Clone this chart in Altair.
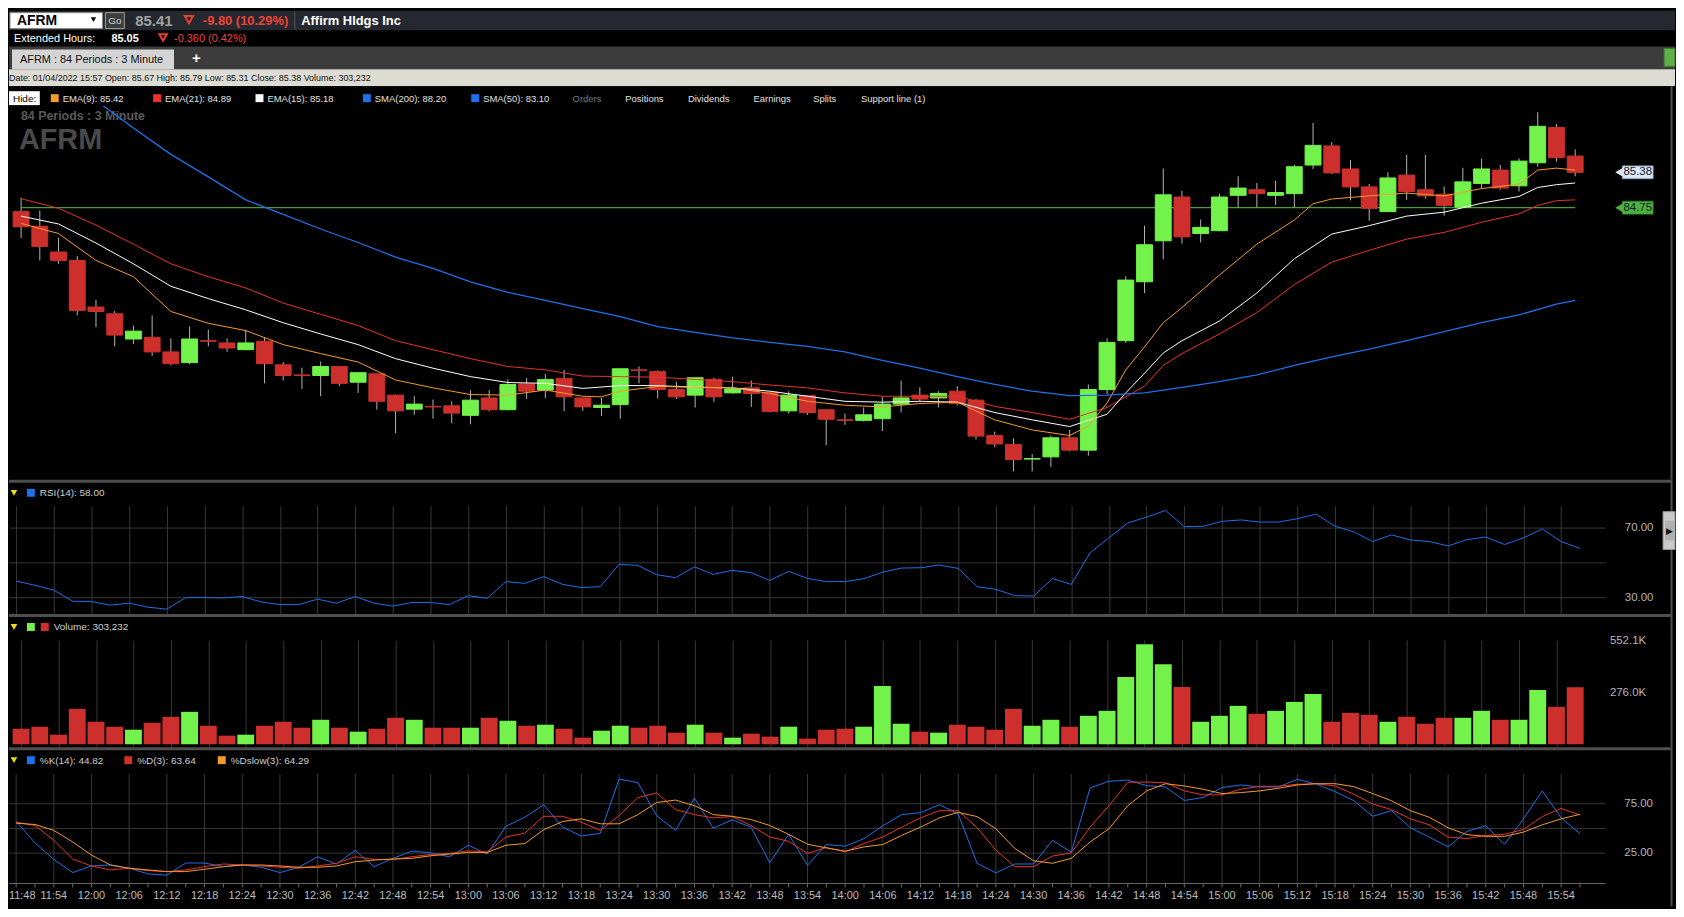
import altair as alt
import pandas as pd

# ---------------- data ----------------
OPEN = [84.68, 84.42, 83.96, 83.81, 82.98, 82.86, 82.41, 82.44, 82.18, 81.99,
        82.38, 82.34, 82.22, 82.37, 81.95, 81.77, 81.76, 81.92, 81.64, 81.79,
        81.41, 81.16, 81.21, 81.22, 81.05, 81.36, 81.15, 81.61, 81.50, 81.71,
        81.36, 81.19, 81.24, 81.86, 81.83, 81.51, 81.41, 81.69, 81.45, 81.54,
        81.46, 81.13, 81.40, 81.15, 80.97, 80.96, 80.99, 81.25, 81.41, 81.36,
        81.48, 81.32, 80.69, 80.53, 80.27, 80.31, 80.65, 80.43, 81.51, 82.38,
        83.43, 84.16, 84.94, 84.29, 84.34, 84.97, 85.07, 84.97, 85.00, 85.51,
        85.85, 85.44, 85.12, 84.68, 85.33, 85.07, 84.99, 84.76, 85.18, 85.42,
        85.14, 85.55, 86.18, 85.67]
HIGH = [84.93, 84.70, 84.21, 83.89, 83.11, 82.91, 82.65, 82.83, 82.42, 82.63,
        82.58, 82.42, 82.57, 82.44, 82.00, 81.90, 82.01, 81.92, 81.81, 81.79,
        81.42, 81.39, 81.33, 81.30, 81.50, 81.50, 81.69, 81.72, 81.79, 81.86,
        81.36, 81.36, 81.88, 81.92, 81.85, 81.65, 81.72, 81.72, 81.74, 81.67,
        81.46, 81.48, 81.40, 81.16, 81.08, 81.19, 81.38, 81.67, 81.55, 81.48,
        81.57, 81.34, 80.76, 80.64, 80.36, 80.69, 80.79, 81.60, 82.42, 83.53,
        84.43, 85.45, 85.05, 84.54, 85.00, 85.31, 85.19, 85.23, 85.51, 86.26,
        85.92, 85.60, 85.17, 85.38, 85.69, 85.69, 85.13, 85.46, 85.62, 85.51,
        85.63, 86.45, 86.24, 85.79]
LOW = [84.21, 83.81, 83.75, 82.83, 82.62, 82.28, 82.32, 82.11, 81.94, 81.96,
       82.28, 82.18, 82.21, 81.62, 81.67, 81.52, 81.39, 81.57, 81.45, 81.15,
       80.73, 81.06, 80.99, 80.91, 80.89, 81.12, 81.14, 81.34, 81.36, 81.12,
       81.13, 81.04, 80.99, 81.62, 81.35, 81.34, 81.19, 81.29, 81.44, 81.20,
       81.10, 81.08, 81.06, 80.52, 80.88, 80.94, 80.77, 81.10, 81.30, 81.19,
       81.23, 80.62, 80.48, 80.05, 80.05, 80.13, 80.41, 80.33, 81.43, 82.34,
       83.23, 83.83, 84.11, 84.13, 84.33, 84.75, 84.75, 84.80, 84.75, 85.44,
       85.35, 84.88, 84.52, 84.68, 84.89, 84.91, 84.61, 84.76, 85.09, 85.07,
       85.04, 85.48, 85.57, 85.31]
CLOSE = [84.41, 84.06, 83.81, 82.92, 82.90, 82.48, 82.55, 82.18, 81.97, 82.41,
         82.37, 82.25, 82.34, 81.97, 81.76, 81.76, 81.92, 81.62, 81.81, 81.30,
         81.13, 81.25, 81.20, 81.09, 81.32, 81.15, 81.60, 81.48, 81.69, 81.38,
         81.20, 81.23, 81.88, 81.85, 81.51, 81.38, 81.72, 81.38, 81.52, 81.44,
         81.12, 81.41, 81.10, 80.98, 80.96, 81.06, 81.25, 81.36, 81.34, 81.44,
         81.26, 80.68, 80.54, 80.26, 80.28, 80.65, 80.43, 81.51, 82.35, 83.46,
         84.09, 84.98, 84.23, 84.40, 84.94, 85.10, 85.00, 85.02, 85.48, 85.86,
         85.37, 85.12, 84.74, 85.28, 85.04, 84.96, 84.79, 85.21, 85.44, 85.10,
         85.58, 86.20, 85.64, 85.38]
VOLUME_K = [82.9, 93.5, 51.1, 188.7, 119.9, 93.5, 77.6, 114.6, 146.4, 172.8,
            98.8, 45.9, 51.1, 98.8, 119.9, 88.2, 130.5, 88.2, 67.0, 82.9,
            141.1, 130.5, 88.2, 88.2, 88.2, 141.1, 125.2, 98.8, 104.1, 82.9,
            35.3, 72.3, 98.8, 88.2, 98.8, 61.7, 104.1, 61.7, 35.3, 56.4,
            40.6, 93.5, 30.0, 77.6, 82.9, 93.5, 310.4, 109.3, 67.0, 61.7,
            104.1, 93.5, 77.6, 188.7, 98.8, 130.5, 93.5, 151.7, 178.1, 358.0,
            532.6, 426.8, 305.1, 119.9, 151.7, 204.6, 162.3, 178.1, 225.7, 268.1,
            119.9, 167.5, 157.0, 119.9, 146.4, 109.3, 141.1, 141.1, 178.1, 130.5,
            130.5, 289.2, 199.3, 303.2]
RSI = [39.4, 37.0, 34.2, 27.9, 27.7, 25.7, 26.8, 24.5, 23.4, 30.0,
       30.0, 29.8, 30.6, 27.5, 26.0, 26.0, 29.1, 26.8, 30.6, 26.8,
       25.1, 27.2, 27.2, 26.0, 31.1, 29.6, 39.1, 38.1, 41.9, 37.5,
       35.7, 36.2, 48.9, 48.3, 43.0, 41.3, 47.5, 43.2, 45.5, 44.2,
       39.8, 44.9, 40.9, 39.1, 39.1, 40.8, 44.5, 46.8, 47.0, 48.5,
       46.6, 36.2, 34.7, 31.1, 30.9, 40.8, 37.5, 55.5, 64.0, 72.5,
       75.8, 79.6, 70.4, 70.6, 73.4, 74.2, 73.0, 73.0, 74.9, 77.5,
       70.6, 67.4, 61.9, 65.7, 62.8, 61.9, 59.4, 63.0, 64.5, 60.2,
       64.0, 69.1, 61.9, 58.0]
STOCH_K = [57.3, 35.3, 18.7, 5.3, 12.0, 13.0, 9.7, 4.0, 2.7, 15.0,
           15.0, 11.3, 13.0, 10.7, 5.3, 10.7, 21.3, 14.0, 27.7, 11.3,
           19.7, 27.0, 25.3, 21.3, 33.0, 24.0, 52.3, 61.3, 74.0, 51.3,
           42.3, 45.0, 100.0, 96.3, 62.7, 48.0, 80.7, 50.3, 58.7, 51.3,
           15.3, 44.0, 12.7, 33.7, 32.0, 39.7, 52.7, 64.0, 66.0, 74.0,
           64.7, 14.7, 5.0, 14.0, 14.0, 38.0, 26.0, 91.0, 97.7, 99.0,
           93.3, 92.0, 78.3, 81.3, 91.3, 94.0, 92.0, 92.0, 99.7, 95.0,
           87.3, 78.0, 62.3, 68.0, 50.7, 41.3, 31.3, 47.0, 52.7, 34.0,
           59.7, 88.0, 60.7, 44.8]
STOCH_D = [56.3, 53.0, 38.0, 19.0, 12.0, 8.0, 9.7, 7.3, 6.3, 8.0,
           11.3, 14.0, 13.0, 12.0, 10.7, 9.7, 12.0, 14.7, 21.3, 18.7,
           18.7, 21.3, 23.7, 24.7, 27.3, 26.3, 41.3, 45.3, 62.3, 62.3,
           56.3, 48.0, 63.0, 81.3, 86.0, 69.0, 64.0, 60.7, 62.0, 53.0,
           41.3, 37.0, 24.7, 30.7, 26.3, 34.7, 41.3, 51.3, 60.7, 68.0,
           68.0, 50.7, 28.0, 11.3, 11.3, 22.0, 25.3, 51.3, 73.0, 96.7,
           97.0, 96.3, 88.0, 84.0, 84.0, 89.7, 92.7, 92.7, 94.7, 95.3,
           93.0, 84.7, 74.7, 69.0, 59.7, 53.7, 41.3, 39.7, 43.0, 44.0,
           49.0, 62.0, 70.3, 63.6]
STOCH_DSLOW = [55.3, 54.0, 48.0, 36.3, 23.0, 13.0, 9.7, 8.0, 6.3, 6.3,
               8.7, 11.3, 13.0, 13.0, 12.0, 10.7, 10.7, 12.0, 16.3, 18.0,
               19.0, 19.7, 22.3, 24.0, 25.7, 25.7, 33.0, 34.7, 48.7, 57.0,
               59.7, 54.7, 54.7, 64.0, 76.3, 78.7, 73.0, 64.0, 62.3, 59.0,
               53.0, 44.0, 34.0, 30.3, 27.0, 31.3, 33.7, 43.0, 51.3, 60.7,
               66.3, 62.0, 49.7, 29.7, 17.3, 14.7, 19.7, 36.3, 49.7, 73.0,
               88.0, 95.3, 93.0, 89.7, 85.3, 86.3, 88.0, 90.7, 94.0, 95.3,
               95.3, 92.3, 85.3, 78.0, 68.0, 61.3, 50.7, 43.7, 42.0, 42.0,
               46.3, 53.7, 59.7, 64.3]

EMA9_AT = [0, 2, 4, 6, 8, 10, 12, 14, 16, 18, 20, 22, 24, 26, 28, 30, 31, 32, 34, 36,
           38, 40, 42, 44, 46, 48, 50, 52, 54, 56, 57, 58, 59, 60, 61, 62, 64, 66, 68, 69,
           70, 72, 74, 76, 78, 80, 81, 82, 83]
EMA9 = [84.47, 84.29, 83.81, 83.52, 82.90, 82.69, 82.56, 82.31, 82.15, 82.00,
        81.68, 81.54, 81.42, 81.41, 81.50, 81.39, 81.38, 81.48, 81.565, 81.55,
        81.54, 81.44, 81.30, 81.23, 81.20, 81.26, 81.285, 80.97, 80.79, 80.69,
        80.86, 81.27, 81.86, 82.27, 82.70, 82.97, 83.55, 84.10, 84.53, 84.82,
        84.905, 84.96, 85.01, 84.96, 85.09, 85.17, 85.42, 85.455, 85.42]
EMA15_AT = [0, 2, 4, 6, 8, 10, 12, 14, 16, 18, 20, 22, 24, 26, 28, 30, 32, 34, 36, 38,
            40, 42, 44, 46, 48, 50, 52, 54, 56, 58, 59, 60, 61, 62, 64, 66, 68, 70, 72, 74,
            76, 78, 80, 81, 82, 83]
EMA15 = [84.60, 84.46, 84.12, 83.75, 83.35, 83.13, 82.93, 82.70, 82.50, 82.31,
         82.06, 81.89, 81.74, 81.635, 81.62, 81.53, 81.58, 81.58, 81.55, 81.54,
         81.48, 81.39, 81.30, 81.285, 81.30, 81.285, 81.10, 80.97, 80.85,
         81.07, 81.45, 81.80, 82.16, 82.38, 82.73, 83.23, 83.84, 84.28, 84.43,
         84.60, 84.67, 84.83, 84.95, 85.11, 85.16, 85.19]
EMA21_AT = [0, 2, 4, 6, 8, 10, 12, 14, 16, 18, 20, 22, 24, 26, 28, 30, 32, 34, 36, 38,
            40, 42, 44, 46, 48, 50, 52, 54, 56, 58, 60, 61, 62, 64, 66, 68, 70, 72, 74, 76,
            78, 80, 81, 82, 83]
EMA21 = [84.91, 84.74, 84.44, 84.10, 83.75, 83.52, 83.32, 83.05, 82.85, 82.65,
         82.38, 82.22, 82.06, 81.92, 81.86, 81.75, 81.74, 81.73, 81.69, 81.65,
         81.59, 81.54, 81.45, 81.39, 81.39, 81.39, 81.21, 81.10, 80.98,
         81.19, 81.57, 81.94, 82.15, 82.50, 82.88, 83.38, 83.78, 83.99, 84.19,
         84.31, 84.49, 84.64, 84.79, 84.875, 84.89]
SMA50_AT = [4, 6, 8, 10, 12, 14, 16, 18, 20, 22, 24, 26, 28, 30, 32, 34, 36, 38, 40, 42,
            44, 46, 48, 50, 52, 54, 56, 58, 60, 62, 64, 66, 68, 70, 72, 74, 76, 78, 80, 82, 83]
SMA50 = [86.66, 86.17, 85.70, 85.30, 84.89, 84.63, 84.37, 84.13, 83.87, 83.67,
         83.43, 83.24, 83.10, 82.95, 82.81, 82.63, 82.53, 82.43, 82.35, 82.28,
         82.18, 82.03, 81.89, 81.74, 81.60, 81.48, 81.40, 81.41, 81.45, 81.55,
         81.65, 81.77, 81.94, 82.09, 82.23, 82.38, 82.54, 82.70, 82.84, 83.03,
         83.10]
SUPPORT = 84.75

TIME_LABELS = ["11:48", "11:54", "12:00", "12:06", "12:12", "12:18", "12:24", "12:30",
               "12:36", "12:42", "12:48", "12:54", "13:00", "13:06", "13:12", "13:18",
               "13:24", "13:30", "13:36", "13:42", "13:48", "13:54", "14:00", "14:06",
               "14:12", "14:18", "14:24", "14:30", "14:36", "14:42", "14:48", "14:54",
               "15:00", "15:06", "15:12", "15:18", "15:24", "15:30", "15:36", "15:42",
               "15:48", "15:54"]
PRICE_TICKS = [80.5, 81.0, 81.5, 82.0, 82.5, 83.0, 83.5, 84.0, 84.5, 85.0, 85.5, 86.0, 86.5]
RSI_TICKS = [30, 50, 70]
VOL_TICKS = [276.0, 552.1]
STOCH_GRID = [25, 50, 75]
STOCH_LABELED = [25, 75]

# ---------------- styling ----------------
W = 1606
FULLW = 1676
GRID = "#383838"
GREEN = "#72f24a"
RED = "#cd302c"
WICK = "#b4b4b4"
C_EMA9 = "#f49b30"
C_EMA21 = "#e8332b"
C_EMA15 = "#ffffff"
C_BLUE = "#1f70ea"
BORDER = "#4e4e4e"
LABEL = "#b6b6b6"
UI = "'Liberation Sans', Arial, sans-serif"
NARROW = "'Liberation Sans Narrow', 'Liberation Sans', Arial, sans-serif"

N = len(CLOSE)
XS = alt.Scale(domain=[-0.38, 84.35], nice=False, zero=False)
GRID_EVEN = list(range(0, N, 2))
DIRS = alt.Scale(domain=["up", "down"], range=[GREEN, RED])
ONE = pd.DataFrame({"k": [0]})

H_PRICE, H_RSI, H_VOL, H_ST = 376, 109, 108, 110


def xgrid_axis():
    return alt.Axis(values=GRID_EVEN, grid=True, gridColor=GRID, labels=False,
                    ticks=False, domain=False, title=None)


def txt(s, x, y, color="#dddddd", size=10, weight="normal", font=UI, align="left"):
    return alt.Chart(ONE).mark_text(text=s, align=align, baseline="middle", fontSize=size,
                                    fontWeight=weight, font=font, color=color).encode(
        x=alt.value(x), y=alt.value(y))


def box(x1, x2, y1, y2, color, stroke=""):
    kw = dict(color=color)
    if stroke:
        kw.update(stroke=stroke, strokeWidth=1)
    return alt.Chart(ONE).mark_rect(**kw).encode(
        x=alt.value(x1), x2=alt.value(x2), y=alt.value(y1), y2=alt.value(y2))


def tri(x, y, color, size=40, filled=True):
    return alt.Chart(ONE).mark_point(shape="triangle-down", filled=filled, size=size,
                                     color=color, opacity=1).encode(x=alt.value(x), y=alt.value(y))


def right_border(h):
    return box(1671.5, 1673.5, 0, h, BORDER)


# ---------------- header ----------------
H = [
    box(0, FULLW, 0, 20, "#25292f"),
    box(0, FULLW, 20, 36, "#000000"),
    box(0, FULLW, 36, 59, "#3c3c3c"),
    box(0, FULLW, 59, 76, "#dcdcd4"),
    box(0, FULLW, 76, 96, "#000000"),
    box(1, 94, 2, 18, "#ffffff", "#8a8a8a"),
    txt("AFRM", 8, 10.5, "#000000", 14, "bold", NARROW),
    tri(85, 9, "#000000", 30),
    box(97, 116, 2, 18, "#3c3c3c", "#a0a0a0"),
    txt("Go", 106.5, 10, "#d0d0d0", 10, align="center"),
    txt("85.41", 127, 10.5, "#a2a2a2", 15, "bold", NARROW),
    tri(181, 9, "#e8402f", 70, filled=False),
    txt("-9.80 (10.29%)", 195, 10.5, "#ee4436", 13, "bold", NARROW),
    box(287, 288, 1, 19, "#555555"),
    txt("Affirm Hldgs Inc", 294, 10.5, "#ffffff", 13, "bold", NARROW),
    txt("Extended Hours:", 5, 28, "#ffffff", 11),
    txt("85.05", 103, 28, "#ffffff", 11, "bold"),
    tri(155, 27, "#e8402f", 55, filled=False),
    txt("-0.360  (0.42%)", 166, 28, "#ee4436", 11),
    box(3, 166, 39, 59, "#d4d4d4"),
    txt("AFRM : 84  Periods : 3 Minute", 11, 49.5, "#111111", 11),
    txt("+", 184, 47.5, "#ffffff", 15, "bold"),
    box(1665, 1676, 38, 56, "#5fae48", "#3d7a2e"),
    txt("Date: 01/04/2022 15:57  Open: 85.67  High: 85.79  Low: 85.31  Close: 85.38  Volume: 303,232",
        0, 67.5, "#111111", 9),
    box(0, 31, 81, 95, "#ffffff"),
    txt("Hide:", 4, 88.5, "#000000", 10),
    box(1671.5, 1673.5, 76, 96, BORDER),
]
LEG = [(42, C_EMA9, "EMA(9): 85.42"), (145, C_EMA21, "EMA(21): 84.89"),
       (248, C_EMA15, "EMA(15): 85.18"), (356, C_BLUE, "SMA(200): 88.20"),
       (465, C_BLUE, "SMA(50): 83.10")]
for x0, col, lab in LEG:
    H.append(box(x0, x0 + 8, 84, 92, col))
    H.append(txt(lab, x0 + 12, 88.5, "#e0e0e0", 9.5))
for x0, lab, col in [(567, "Orders", "#7a7a7a"), (620, "Positions", "#e0e0e0"),
                     (683, "Dividends", "#e0e0e0"), (749, "Earnings", "#e0e0e0"),
                     (809, "Splits", "#e0e0e0"), (857, "Support line (1)", "#e0e0e0")]:
    H.append(txt(lab, x0, 88.5, col, 9.5))
header = alt.layer(*H).properties(width=FULLW, height=96)

# ---------------- price panel ----------------
cdf = pd.DataFrame({"i": list(range(N)), "o": OPEN, "h": HIGH, "l": LOW, "c": CLOSE,
                    "v": VOLUME_K})
cdf["dir"] = ["up" if c >= o else "down" for o, c in zip(OPEN, CLOSE)]
PY = alt.Scale(domain=[79.9, 86.56], nice=False, zero=False)
price_yaxis = alt.Axis(orient="right", values=PRICE_TICKS, format=".2f", grid=True,
                       gridColor=GRID, ticks=False, domain=False, labelPadding=19, title=None)


def xq(field="i"):
    return alt.X(f"{field}:Q", scale=XS, axis=None)


def ma_line(at, vals, color, width=1.0, clip=False):
    df = pd.DataFrame({"i": at, "p": vals})
    return alt.Chart(df).mark_line(color=color, strokeWidth=width, clip=clip).encode(
        x=xq(), y=alt.Y("p:Q", scale=PY, axis=None))


watermark = [
    txt("84  Periods : 3 Minute", 12, 10, "#5a5a5a", 12.5, "bold"),
    txt("AFRM", 10, 34, "#4a4a4a", 29, "bold", NARROW),
]
wicks = alt.Chart(cdf).mark_rule(color=WICK, strokeWidth=1).encode(
    x=alt.X("i:Q", scale=XS, axis=xgrid_axis()),
    y=alt.Y("l:Q", scale=PY, axis=price_yaxis), y2="h:Q")
bodies = alt.Chart(cdf).mark_bar(size=16, strokeWidth=1).encode(
    x=xq(), y=alt.Y("o:Q", scale=PY, axis=None), y2="c:Q",
    color=alt.Color("dir:N", scale=DIRS, legend=None),
    stroke=alt.Stroke("dir:N", scale=DIRS, legend=None))
sup_df = pd.DataFrame({"a": [0], "b": [N - 1], "p": [SUPPORT]})
support = alt.Chart(sup_df).mark_rule(color="#5ec832", strokeWidth=1).encode(
    x=xq("a"), x2="b:Q", y=alt.Y("p:Q", scale=PY, axis=None))


def price_tag(value, fill, edge):
    df = pd.DataFrame({"p": [value], "top": [value + 0.115], "bot": [value - 0.115],
                       "lab": [f"{value:.2f}"]})
    rect = alt.Chart(df).mark_rect(color=fill, stroke=edge, strokeWidth=0.8).encode(
        x=alt.value(W + 17), x2=alt.value(W + 48),
        y=alt.Y("top:Q", scale=PY, axis=None), y2="bot:Q")
    arrow = alt.Chart(df).mark_point(shape="triangle-left", filled=True, size=90, opacity=1,
                                     color=fill).encode(
        x=alt.value(W + 14), y=alt.Y("p:Q", scale=PY, axis=None))
    label = alt.Chart(df).mark_text(fontSize=11.5, font=UI, color="#10202e").encode(
        x=alt.value(W + 32.5), y=alt.Y("p:Q", scale=PY, axis=None), text="lab:N")
    return [rect, arrow, label]


price = alt.layer(
    wicks, *watermark, support, bodies,
    ma_line(EMA21_AT, EMA21, C_EMA21),
    ma_line(EMA15_AT, EMA15, C_EMA15),
    ma_line(EMA9_AT, EMA9, C_EMA9),
    ma_line(SMA50_AT, SMA50, C_BLUE, 1.3, clip=True),
    *price_tag(CLOSE[-1], "#dbe7f6", "#7d95b0"),
    *price_tag(SUPPORT, "#4db13d", "#2f7a25"),
    right_border(H_PRICE),
).properties(width=W, height=H_PRICE)


# ---------------- panel headers ----------------
def panel_header(items, h=26):
    base = [box(0, 1672, 0, 3, BORDER), right_border(h), tri(5, 13, "#e6dc1e", 45)]
    return alt.layer(*base, *items).properties(width=FULLW, height=h)


rsi_head = panel_header([box(18, 26, 9, 17, C_BLUE), txt("RSI(14): 58.00", 31, 13.5, "#cfcfcf", 10)])
vol_head = panel_header([box(18, 26, 9, 17, GREEN), box(32, 40, 9, 17, RED),
                         txt("Volume: 303,232", 45, 13.5, "#cfcfcf", 10)])
st_head = panel_header([box(18, 26, 9, 17, C_BLUE), txt("%K(14): 44.82", 31, 13.5, "#cfcfcf", 10),
                        box(116, 124, 9, 17, RED), txt("%D(3): 63.64", 129, 13.5, "#cfcfcf", 10),
                        box(210, 218, 9, 17, C_EMA9), txt("%Dslow(3): 64.29", 223, 13.5, "#cfcfcf", 10)],
                       h=27)

# ---------------- RSI ----------------
rdf = pd.DataFrame({"i": list(range(N)), "r": RSI})
rsi_line = alt.Chart(rdf).mark_line(color=C_BLUE, strokeWidth=1).encode(
    x=alt.X("i:Q", scale=XS, axis=xgrid_axis()),
    y=alt.Y("r:Q", scale=alt.Scale(domain=[20.6, 82.3], nice=False, zero=False),
            axis=alt.Axis(orient="right", values=RSI_TICKS, grid=True, gridColor=GRID,
                          labelExpr="datum.value == 50 ? '' : format(datum.value, '.2f')",
                          ticks=False, domain=False, labelPadding=19, title=None)))
rsi_widget = [
    box(1664, 1676, 6, 44, "#c9c9c9", "#9a9a9a"),
    box(1666, 1675, 15, 35, "#b0b0b0"),
    txt("▶", 1670.5, 25, "#111111", 9, align="center"),
]
rsi = alt.layer(rsi_line, right_border(H_RSI), *rsi_widget).properties(width=W, height=H_RSI)

# ---------------- volume ----------------
vol_bars = alt.Chart(cdf).mark_bar(size=17).encode(
    x=alt.X("i:Q", scale=XS, axis=xgrid_axis()),
    y=alt.Y("v:Q", scale=alt.Scale(domain=[-16, 556], nice=False, zero=False),
            axis=alt.Axis(orient="right", values=VOL_TICKS, grid=False,
                          labelExpr="format(datum.value, '.1f') + 'K'",
                          ticks=False, domain=False, labelPadding=4, title=None)),
    color=alt.Color("dir:N", scale=DIRS, legend=None),
)
vol = alt.layer(vol_bars, right_border(H_VOL)).properties(width=W, height=H_VOL)

# ---------------- stochastic ----------------
sdf = pd.DataFrame({"i": list(range(N)), "k": STOCH_K, "d": STOCH_D, "ds": STOCH_DSLOW})
SY = alt.Scale(domain=[-5.7, 105], nice=False, zero=False)


def sy(field):
    return alt.Y(f"{field}:Q", scale=SY, axis=None)


st_vgrid = alt.Chart(pd.DataFrame({"i": GRID_EVEN})).mark_rule(
    color=GRID, strokeWidth=1).encode(x=xq(), y=alt.value(0), y2=alt.value(H_ST))
st_hgrid = alt.Chart(pd.DataFrame({"g": STOCH_GRID})).mark_rule(
    color=GRID, strokeWidth=1).encode(y=sy("g"), x=alt.value(0), x2=alt.value(W))
st_labels = alt.Chart(pd.DataFrame({"g": STOCH_LABELED,
                                    "t": [f"{v:.2f}" for v in STOCH_LABELED]})).mark_text(
    align="left", baseline="middle", fontSize=11.5, font=UI, color=LABEL).encode(
    x=alt.value(W + 19), y=sy("g"), text="t:N")
st_domain = alt.Chart(ONE).mark_rule(color="#6a6a6a", strokeWidth=1).encode(
    x=alt.value(0), x2=alt.value(W), y=alt.value(H_ST))
st_k = alt.Chart(sdf).mark_line(color=C_BLUE, strokeWidth=1).encode(x=xq(), y=sy("k"))
st_d = alt.Chart(sdf).mark_line(color=C_EMA21, strokeWidth=1).encode(x=xq(), y=sy("d"))
st_ds = alt.Chart(sdf).mark_line(color=C_EMA9, strokeWidth=1).encode(x=xq(), y=sy("ds"))
st_ticks = alt.Chart(cdf).mark_rule(color="#6a6a6a", strokeWidth=1).encode(
    x=xq(), y=alt.value(H_ST), y2=alt.value(H_ST + 4))
tl_df = pd.DataFrame({"i": GRID_EVEN, "t": TIME_LABELS})
time_first = alt.Chart(tl_df.iloc[:1]).mark_text(
    align="left", baseline="middle", fontSize=11, font=UI, color="#bdbdbd").encode(
    x=alt.value(0), y=alt.value(H_ST + 13), text="t:N")
time_rest = alt.Chart(tl_df.iloc[1:]).mark_text(
    align="center", baseline="middle", fontSize=11, font=UI, color="#bdbdbd").encode(
    x=xq(), y=alt.value(H_ST + 13), text="t:N")
stoch = alt.layer(st_vgrid, st_hgrid, st_domain, st_labels, st_k, st_d, st_ds, st_ticks,
                  time_first, time_rest,
                  box(1671.5, 1673.5, 0, H_ST + 23, BORDER)).properties(width=W, height=H_ST)

chart = alt.vconcat(header, price, rsi_head, rsi, vol_head, vol, st_head, stoch,
                    spacing=0, bounds="flush").properties(
    padding={"left": 0, "top": 0, "right": 0, "bottom": 0}
).configure(background="#000000").configure_view(strokeWidth=0).configure_axis(
    labelFont=UI, labelFontSize=11.5, labelColor=LABEL)

chart.save("out.html", embed_options={"renderer": "svg", "actions": False})
